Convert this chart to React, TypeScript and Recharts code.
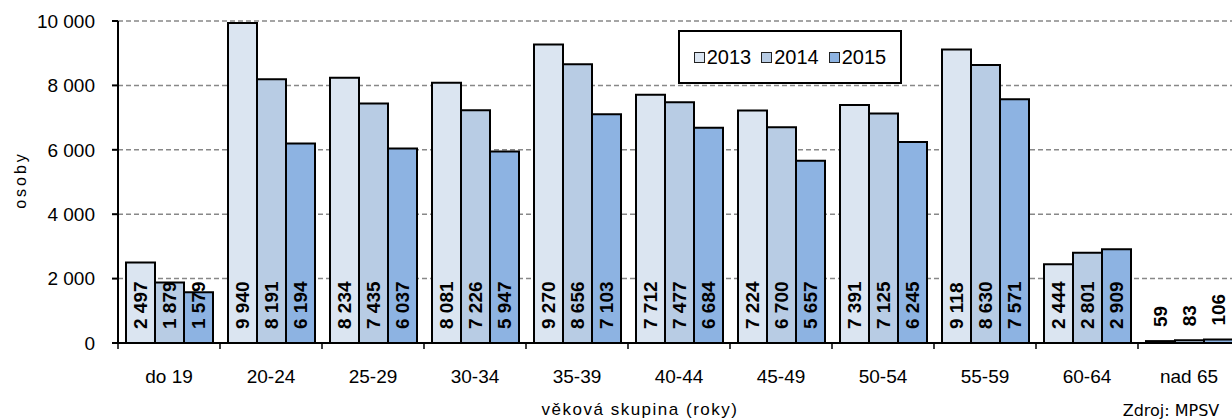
import { Bar, BarChart, CartesianGrid, LabelList, XAxis, YAxis } from "recharts"

const categories = ["do 19", "20-24", "25-29", "30-34", "35-39", "40-44", "45-49", "50-54", "55-59", "60-64", "nad 65"]
const values2013 = [2497, 9940, 8234, 8081, 9270, 7712, 7224, 7391, 9118, 2444, 59]
const values2014 = [1879, 8191, 7435, 7226, 8656, 7477, 6700, 7125, 8630, 2801, 83]
const values2015 = [1579, 6194, 6037, 5947, 7103, 6684, 5657, 6245, 7571, 2909, 106]
const yTicks = [0, 2000, 4000, 6000, 8000, 10000]

const series = [
  { key: "y2013", name: "2013", color: "#dbe5f1" },
  { key: "y2014", name: "2014", color: "#b8cce4" },
  { key: "y2015", name: "2015", color: "#8db3e2" },
]

const data = categories.map((cat, i) => ({
  cat,
  y2013: values2013[i],
  y2014: values2014[i],
  y2015: values2015[i],
}))

const FONT = "'Liberation Sans', Arial, sans-serif"
const W = 1240
const H = 419
const LEFT = 118
const BAND = (W - LEFT) / categories.length

const fmt = (v: number) => String(v).replace(/\B(?=(\d{3})+(?!\d))/g, "\u00a0")

function CatTick(props: any) {
  const { x, y, payload, index } = props
  const isLast = index === categories.length - 1
  return (
    <g>
      <line x1={x - BAND / 2} x2={x - BAND / 2} y1={y} y2={y + 6} stroke="#000" strokeWidth={1.5} />
      {isLast && <line x1={x + BAND / 2} x2={x + BAND / 2} y1={y} y2={y + 6} stroke="#000" strokeWidth={1.5} />}
      <text x={x} y={y + 40} textAnchor="middle" fontSize={19} fontFamily={FONT} fill="#000">
        {payload.value}
      </text>
    </g>
  )
}

function BarValue(props: any) {
  const { x, y, width, height, value } = props
  const cx = x + width / 2
  const by = value < 500 ? y - 14 : y + height - 14
  return (
    <text
      x={cx}
      y={by}
      transform={`rotate(-90 ${cx} ${by})`}
      textAnchor="start"
      dominantBaseline="central"
      fontSize={19}
      fontWeight="bold"
      fontFamily={FONT}
      fill="#000"
    >
      {fmt(value)}
    </text>
  )
}

export default function App() {
  return (
    <div style={{ position: "absolute", left: 0, top: 0, width: 1232, height: H, overflow: "hidden", background: "#fff" }}>
      <BarChart
        width={W}
        height={H}
        data={data}
        margin={{ top: 21, right: 0, left: 0, bottom: 0 }}
        barCategoryGap={8}
        barGap={0}
      >
        <CartesianGrid vertical={false} stroke="#888" strokeDasharray="5 3" strokeWidth={1.5} />
        <XAxis
          dataKey="cat"
          height={76}
          tickSize={0}
          tickMargin={0}
          tick={<CatTick />}
          axisLine={{ stroke: "#000", strokeWidth: 2 }}
          interval={0}
        />
        <YAxis
          width={LEFT}
          domain={[0, 10000]}
          ticks={yTicks}
          tickFormatter={fmt}
          tickSize={6}
          tickMargin={17}
          tick={{ fontSize: 19, fontFamily: FONT, fill: "#000" }}
          axisLine={{ stroke: "#000", strokeWidth: 2 }}
          tickLine={{ stroke: "#000", strokeWidth: 2 }}
        />
        {series.map((s) => (
          <Bar key={s.key} dataKey={s.key} name={s.name} fill={s.color} stroke="#000" strokeWidth={2} isAnimationActive={false}>
            <LabelList dataKey={s.key} content={<BarValue />} />
          </Bar>
        ))}
      </BarChart>
      <div
        style={{
          position: "absolute",
          left: 678,
          top: 30,
          width: 224,
          height: 54,
          border: "2px solid #000",
          background: "#fff",
          display: "flex",
          alignItems: "center",
          justifyContent: "center",
          gap: 10,
          fontFamily: FONT,
          fontSize: 20,
          boxSizing: "border-box",
        }}
      >
        {series.map((s) => (
          <span key={s.key} style={{ display: "flex", alignItems: "center", gap: 2 }}>
            <span style={{ width: 9, height: 9, background: s.color, border: "1.5px solid #222", display: "inline-block" }} />
            {s.name}
          </span>
        ))}
      </div>
      <div
        style={{
          position: "absolute",
          left: 21,
          top: 180,
          transform: "translate(-50%, -50%) rotate(-90deg)",
          fontFamily: FONT,
          fontSize: 16,
          letterSpacing: 3,
          whiteSpace: "nowrap",
        }}
      >
        osoby
      </div>
      <div
        style={{
          position: "absolute",
          left: 640,
          top: 410,
          transform: "translate(-50%, -50%)",
          fontFamily: FONT,
          fontSize: 17,
          letterSpacing: 1.5,
          whiteSpace: "nowrap",
        }}
      >
        věková skupina (roky)
      </div>
      <div
        style={{
          position: "absolute",
          left: 1171,
          top: 410,
          transform: "translate(-50%, -50%)",
          fontFamily: "'DejaVu Sans', sans-serif",
          fontSize: 16,
          whiteSpace: "nowrap",
        }}
      >
        Zdroj: MPSV
      </div>
    </div>
  )
}
